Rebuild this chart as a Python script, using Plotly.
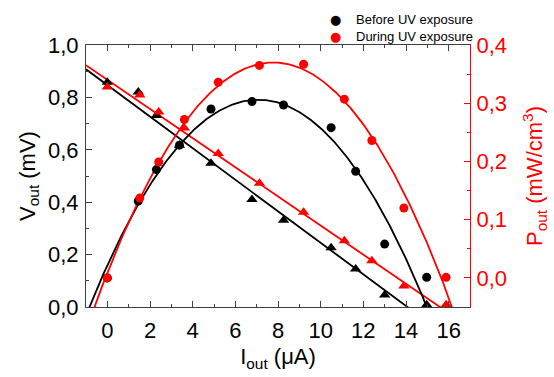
import numpy as np
import plotly.graph_objects as go

# ---- data ----
I_before = [0.0, 1.45, 2.3, 3.38, 4.86, 6.78, 8.26, 10.49, 11.64, 13.0, 14.97]
V_before = [0.858, 0.821, 0.731, 0.617, 0.549, 0.41, 0.331, 0.226, 0.145, 0.046, 0.009]
P_before = [0.0, 0.132, 0.186, 0.228, 0.29, 0.303, 0.297, 0.258, 0.183, 0.058, 0.001]

I_during = [0.0, 1.52, 2.41, 3.61, 5.2, 7.13, 9.2, 11.11, 12.4, 13.9, 15.88]
V_during = [0.84, 0.809, 0.744, 0.683, 0.586, 0.472, 0.362, 0.253, 0.177, 0.08, 0.009]
P_during = [0.0, 0.137, 0.199, 0.272, 0.336, 0.365, 0.367, 0.307, 0.236, 0.12, 0.001]

# fitted curves: linear V = b0 + b1*I ; parabola P = Pmax - a*(I - Imax)^2
vfit_before = [0.847, -0.0602]
vfit_during = [0.867, -0.0556]
pfit_before = [7.07, 0.306, 0.00569]
pfit_during = [7.78, 0.370, 0.00597]

legend_names = ["Before UV exposure", "During UV exposure"]

BLACK = "#000000"
RED = "#ff0000"
FONT = "Liberation Sans, Arial, sans-serif"
TICK = 22
TITLE = 22

xs = np.linspace(-1, 17, 400)

def vline(c):
    return c[0] + c[1] * xs

def pcurve(c):
    return c[1] - c[2] * (xs - c[0]) ** 2

fig = go.Figure()

# fit lines
fig.add_trace(go.Scatter(x=xs, y=vline(vfit_before), mode="lines",
                         line=dict(color=BLACK, width=1.8), showlegend=False, yaxis="y"))
fig.add_trace(go.Scatter(x=xs, y=vline(vfit_during), mode="lines",
                         line=dict(color=RED, width=1.8), showlegend=False, yaxis="y"))
fig.add_trace(go.Scatter(x=xs, y=pcurve(pfit_before), mode="lines",
                         line=dict(color=BLACK, width=1.8), showlegend=False, yaxis="y2"))
fig.add_trace(go.Scatter(x=xs, y=pcurve(pfit_during), mode="lines",
                         line=dict(color=RED, width=1.8), showlegend=False, yaxis="y2"))

# triangles (voltage)
fig.add_trace(go.Scatter(x=I_before, y=V_before, mode="markers",
                         marker=dict(symbol="triangle-up", size=10, color=BLACK),
                         showlegend=False, yaxis="y", cliponaxis=False))
fig.add_trace(go.Scatter(x=I_during, y=V_during, mode="markers",
                         marker=dict(symbol="triangle-up", size=10, color=RED),
                         showlegend=False, yaxis="y", cliponaxis=False))
# circles (power)
fig.add_trace(go.Scatter(x=I_before, y=P_before, mode="markers", name=legend_names[0],
                         marker=dict(symbol="circle", size=9, color=BLACK),
                         yaxis="y2", cliponaxis=False, showlegend=False))
fig.add_trace(go.Scatter(x=I_during, y=P_during, mode="markers", name=legend_names[1],
                         marker=dict(symbol="circle", size=9, color=RED),
                         yaxis="y2", cliponaxis=False, showlegend=False))

# legend drawn as annotations (compact, above the frame as in the reference)
leg_rows = [(legend_names[0], BLACK, 1.0963), (legend_names[1], RED, 1.0333)]
x_dot = (338 - 86) / 388
x_txt = (357 - 86) / 388
for name, col, yy in leg_rows:
    fig.add_annotation(x=x_dot, y=yy, xref="paper", yref="paper", text="●",
                       showarrow=False, xanchor="center", yanchor="middle",
                       font=dict(size=13, color=col, family="DejaVu Sans"))
    fig.add_annotation(x=x_txt, y=yy, xref="paper", yref="paper", text=name,
                       showarrow=False, xanchor="left", yanchor="middle",
                       font=dict(size=13, color=BLACK, family=FONT))

axis_line = "#404040"

fig.update_layout(
    width=554, height=377,
    margin=dict(l=86, r=80, t=45, b=62),
    paper_bgcolor="white", plot_bgcolor="white",
    separators=",.",
    font=dict(family=FONT, size=TICK, color=BLACK),
    showlegend=False,
    xaxis=dict(range=[-1, 17], tickmode="linear", tick0=0, dtick=2,
               ticks="inside", ticklen=6, tickcolor=axis_line,
               showline=True, linecolor=axis_line, linewidth=1, mirror="ticks",
               showgrid=False, zeroline=False,
               minor=dict(ticks="inside", ticklen=3, tick0=0, dtick=1, tickcolor=axis_line),
               tickfont=dict(size=TICK, color=BLACK), ticklabelstandoff=4,
               title=dict(text="I<sub>out</sub> (μA)", font=dict(size=TITLE, color=BLACK), standoff=6)),
    yaxis=dict(range=[0, 1.0], tickmode="linear", tick0=0, dtick=0.2, tickformat=".1f",
               ticks="inside", ticklen=6, tickcolor=axis_line,
               showline=True, linecolor=axis_line, linewidth=1,
               showgrid=False, zeroline=False,
               minor=dict(ticks="inside", ticklen=3, tick0=0, dtick=0.1, tickcolor=axis_line),
               tickfont=dict(size=TICK, color=BLACK), ticklabelstandoff=2,
               title=dict(text="V<sub>out</sub> (mV)", font=dict(size=TITLE, color=BLACK), standoff=6)),
    yaxis2=dict(range=[-0.05, 0.4], overlaying="y", side="right", anchor="x",
                tickmode="linear", tick0=0, dtick=0.1, tickformat=".1f",
                ticks="inside", ticklen=6, tickcolor=RED,
                showline=True, linecolor=RED, linewidth=1,
                showgrid=False, zeroline=False,
                minor=dict(ticks="inside", ticklen=3, tick0=0, dtick=0.05, tickcolor=RED),
                tickfont=dict(size=TICK, color=RED), ticklabelstandoff=1,
                title=dict(text="P<sub>out</sub> (mW/cm<sup>3</sup>)",
                           font=dict(size=TITLE, color=RED), standoff=20)),
)

fig.write_html("out.html")
